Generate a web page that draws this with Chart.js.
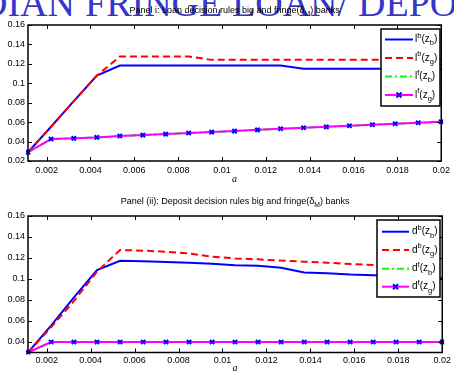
<!DOCTYPE html>
<html>
<head>
<meta charset="utf-8">
<script src="https://cdn.jsdelivr.net/npm/chart.js@4/dist/chart.umd.min.js"></script>
<style>
  html, body { margin: 0; padding: 0; background: #fff; }
  #wrap { position: relative; width: 454px; height: 372px; overflow: hidden; background: #fff; }
  .banner {
    position: absolute; top: -16px;
    font-family: "Liberation Serif", "DejaVu Serif", serif;
    font-size: 38px; line-height: 38px; color: #3636c8; white-space: pre;
  }
  .panel { position: absolute; left: 0; width: 454px; }
</style>
</head>
<body>
<div id="wrap">
  <span class="banner" style="left:-20px">DIAN</span>
  <span class="banner" style="left:85px">FRINGE</span>
  <span class="banner" style="left:232px">LOAN/</span>
  <span class="banner" style="left:358px">DEPOS</span>
  <div class="panel" style="top:0;height:186px"><canvas id="loanChart"></canvas></div>
  <div class="panel" style="top:190px;height:182px"><canvas id="depositChart"></canvas></div>
</div>
<script>
// grid of a values
const aValues = [0.00115, 0.0022, 0.00324, 0.00429, 0.00534, 0.00639, 0.00743, 0.00848, 0.00953,
                 0.01057, 0.01162, 0.01267, 0.01372, 0.01476, 0.01581, 0.01686, 0.0179, 0.01895, 0.02];

const xTickValues = [0.002, 0.004, 0.006, 0.008, 0.01, 0.012, 0.014, 0.016, 0.018, 0.02];
const loanYTicks = [0.02, 0.04, 0.06, 0.08, 0.1, 0.12, 0.14, 0.16];
const depositYTicks = [0.04, 0.06, 0.08, 0.1, 0.12, 0.14, 0.16];

// Panel i: loan decision rules
const loanBigZb = [0.029, 0.0553, 0.0817, 0.108, 0.1183, 0.1183, 0.1183, 0.1183, 0.1183, 0.1183,
                   0.1183, 0.1183, 0.115, 0.115, 0.115, 0.115, 0.115, 0.115, 0.115];
const loanBigZg = [0.029, 0.0553, 0.0817, 0.108, 0.1275, 0.1275, 0.1275, 0.1275, 0.1241, 0.1241,
                   0.1241, 0.1241, 0.1241, 0.1241, 0.1241, 0.1241, 0.1241, 0.1241, 0.1241];
const loanFringeZb = [0.029, 0.0426, 0.0433, 0.0443, 0.0457, 0.0467, 0.0477, 0.0488, 0.0498, 0.0508,
                      0.0521, 0.0532, 0.0542, 0.0552, 0.0563, 0.0573, 0.0583, 0.0594, 0.0604];
const loanFringeZg = [0.029, 0.0426, 0.0433, 0.0443, 0.0457, 0.0467, 0.0477, 0.0488, 0.0498, 0.0508,
                      0.0521, 0.0532, 0.0542, 0.0552, 0.0563, 0.0573, 0.0583, 0.0594, 0.0604];

// Panel (ii): deposit decision rules
const depBigZb = [0.03, 0.0556, 0.0824, 0.1085, 0.1174, 0.117, 0.1162, 0.1155, 0.1145, 0.113,
                  0.1127, 0.1107, 0.1063, 0.1055, 0.1042, 0.1035, 0.103, 0.102, 0.1005];
const depBigZg = [0.03, 0.054, 0.079, 0.107, 0.1276, 0.127, 0.126, 0.1244, 0.1212, 0.1196,
                  0.1187, 0.1175, 0.1165, 0.1155, 0.1142, 0.1133, 0.112, 0.111, 0.11];
const depFringeZb = [0.03, 0.04, 0.04, 0.04, 0.04, 0.04, 0.04, 0.04, 0.04, 0.04,
                     0.04, 0.04, 0.04, 0.04, 0.04, 0.04, 0.04, 0.04, 0.04];
const depFringeZg = [0.03, 0.04, 0.04, 0.04, 0.04, 0.04, 0.04, 0.04, 0.04, 0.04,
                     0.04, 0.04, 0.04, 0.04, 0.04, 0.04, 0.04, 0.04, 0.04];

// legend label pieces: base letter, superscript, subscript of z
const legendSup = ['b', 'b', 'f', 'f'];
const legendSub = ['b', 'g', 'b', 'g'];

const SANS = '"Liberation Sans", Arial, Helvetica, sans-serif';

const seriesStyles = [
  { color: '#0000ff', dash: [], order: 3 },
  { color: '#ff0000', dash: [7, 4], order: 2 },
  { color: '#00ff00', dash: [7, 3, 2, 3], order: 1 },
  { color: '#ff00ff', dash: [], order: 0, marker: true }
];

// draws text made of normal / superscript / subscript pieces
function richWidth(ctx, parts, size) {
  let w = 0;
  parts.forEach(p => {
    ctx.font = (p.s ? size * 0.75 : size) + 'px ' + SANS;
    w += ctx.measureText(p.t).width;
  });
  return w;
}
function drawRich(ctx, parts, x, y, size, align) {
  let cx = align === 'center' ? x - richWidth(ctx, parts, size) / 2 : x;
  ctx.textBaseline = 'middle';
  ctx.textAlign = 'left';
  parts.forEach(p => {
    const sz = p.s ? size * 0.75 : size;
    ctx.font = sz + 'px ' + SANS;
    const dy = p.s === 1 ? -size * 0.38 : (p.s === -1 ? size * 0.38 : 0);
    ctx.fillText(p.t, cx, y + dy);
    cx += ctx.measureText(p.t).width;
  });
}

const panelDecor = {
  id: 'panelDecor',
  afterDatasetsDraw(chart, args, opts) {
    const { ctx, chartArea: a, scales } = chart;
    const x = scales.x, y = scales.y;
    ctx.save();
    // inward tick marks on all four sides
    ctx.strokeStyle = '#000';
    ctx.lineWidth = 1;
    ctx.beginPath();
    x.ticks.forEach(t => {
      const px = Math.round(x.getPixelForValue(t.value)) + 0.5;
      ctx.moveTo(px, a.bottom); ctx.lineTo(px, a.bottom - 4);
      ctx.moveTo(px, a.top); ctx.lineTo(px, a.top + 4);
    });
    y.ticks.forEach(t => {
      const py = Math.round(y.getPixelForValue(t.value)) + 0.5;
      ctx.moveTo(a.left, py); ctx.lineTo(a.left + 4, py);
      ctx.moveTo(a.right, py); ctx.lineTo(a.right - 4, py);
    });
    ctx.stroke();
    // axes box
    ctx.lineWidth = 1.5;
    ctx.strokeRect(a.left, a.top, a.right - a.left, a.bottom - a.top);

    // legend box
    const L = opts.legend;
    ctx.fillStyle = '#fff';
    ctx.fillRect(L.left, L.top, L.right - L.left, L.bottom - L.top);
    ctx.lineWidth = 1.5;
    ctx.strokeStyle = '#000';
    ctx.strokeRect(L.left, L.top, L.right - L.left, L.bottom - L.top);
    L.rows.forEach((ry, i) => {
      const st = seriesStyles[i];
      ctx.strokeStyle = st.color;
      ctx.lineWidth = 2;
      ctx.setLineDash(st.dash);
      ctx.beginPath();
      ctx.moveTo(L.lineFrom, ry); ctx.lineTo(L.lineTo, ry);
      ctx.stroke();
      ctx.setLineDash([]);
      if (st.marker) {
        const mx = (L.lineFrom + L.lineTo) / 2;
        ctx.strokeStyle = '#0000ff';
        ctx.lineWidth = 2;
        ctx.beginPath();
        ctx.moveTo(mx - 2.5, ry - 2.5); ctx.lineTo(mx + 2.5, ry + 2.5);
        ctx.moveTo(mx + 2.5, ry - 2.5); ctx.lineTo(mx - 2.5, ry + 2.5);
        ctx.stroke();
      }
      ctx.fillStyle = '#000';
      drawRich(ctx, [
        { t: opts.base }, { t: legendSup[i], s: 1 }, { t: '(z' }, { t: legendSub[i], s: -1 }, { t: ')' }
      ], L.textX, ry, 10, 'left');
    });
    ctx.restore();
  },
  afterDraw(chart, args, opts) {
    const { ctx, chartArea: a } = chart;
    ctx.save();
    ctx.fillStyle = '#000';
    const cx = (a.left + a.right) / 2;
    drawRich(ctx, opts.title, cx, opts.titleY, 9, 'center');
    ctx.font = 'italic 10px "Liberation Serif", "DejaVu Serif", serif';
    ctx.textAlign = 'center';
    ctx.textBaseline = 'middle';
    ctx.fillText('a', cx, opts.labelY);
    ctx.restore();
  }
};

function makePanel(canvasId, series, yTicks, yMin, geom, decor) {
  const datasets = series.map((vals, i) => {
    const st = seriesStyles[i];
    return {
      data: aValues.map((a, k) => ({ x: a, y: vals[k] })),
      borderColor: st.color,
      backgroundColor: st.color,
      borderWidth: 2,
      borderDash: st.dash,
      order: st.order,
      tension: 0,
      pointRadius: st.marker ? 3 : 0,
      pointStyle: 'crossRot',
      pointBorderColor: '#0000ff',
      pointBackgroundColor: '#0000ff',
      pointBorderWidth: 2,
      clip: 2
    };
  });
  return new Chart(document.getElementById(canvasId), {
    type: 'line',
    data: { datasets },
    plugins: [panelDecor],
    options: {
      responsive: true,
      maintainAspectRatio: false,
      animation: false,
      events: [],
      layout: { padding: { top: geom.top, right: 9, left: 0, bottom: 0 } },
      plugins: {
        legend: { display: false },
        tooltip: { enabled: false },
        panelDecor: decor
      },
      scales: {
        x: {
          type: 'linear',
          min: aValues[0],
          max: 0.02,
          grid: { display: false, drawTicks: false },
          border: { display: false },
          afterBuildTicks: s => { s.ticks = xTickValues.map(v => ({ value: v })); },
          afterFit: s => { s.height = geom.xHeight; },
          ticks: {
            padding: geom.xPad,
            maxRotation: 0,
            autoSkip: false,
            color: '#000',
            font: { family: SANS, size: 9 },
            callback: v => String(v)
          }
        },
        y: {
          type: 'linear',
          min: yMin,
          max: 0.16,
          grid: { display: false, drawTicks: false },
          border: { display: false },
          afterBuildTicks: s => { s.ticks = yTicks.map(v => ({ value: v })); },
          afterFit: s => { s.width = 28; },
          ticks: {
            padding: 3,
            autoSkip: false,
            color: '#000',
            font: { family: SANS, size: 9 },
            callback: v => String(v)
          }
        }
      }
    }
  });
}

makePanel('loanChart', [loanBigZb, loanBigZg, loanFringeZb, loanFringeZg], loanYTicks, 0.02,
  { top: 25, xHeight: 25, xPad: 4 },
  {
    base: 'l',
    title: [{ t: 'Panel i: Loan decision rules big and fringe(δ' }, { t: 'M', s: -1 }, { t: ') banks' }],
    titleY: 11,
    labelY: 179,
    legend: { left: 381, top: 29, right: 440, bottom: 106, lineFrom: 385, lineTo: 413, textX: 415,
              rows: [39.5, 58, 76.5, 95] }
  });

makePanel('depositChart', [depBigZb, depBigZg, depFringeZb, depFringeZg], depositYTicks, 0.03,
  { top: 26, xHeight: 19.5, xPad: 3 },
  {
    base: 'd',
    title: [{ t: 'Panel (ii): Deposit decision rules big and fringe(δ' }, { t: 'M', s: -1 }, { t: ') banks' }],
    titleY: 12,
    labelY: 178,
    legend: { left: 377, top: 30, right: 440, bottom: 107, lineFrom: 382, lineTo: 409, textX: 412,
              rows: [41.7, 60, 78.7, 96.7] }
  });
</script>
</body>
</html>
